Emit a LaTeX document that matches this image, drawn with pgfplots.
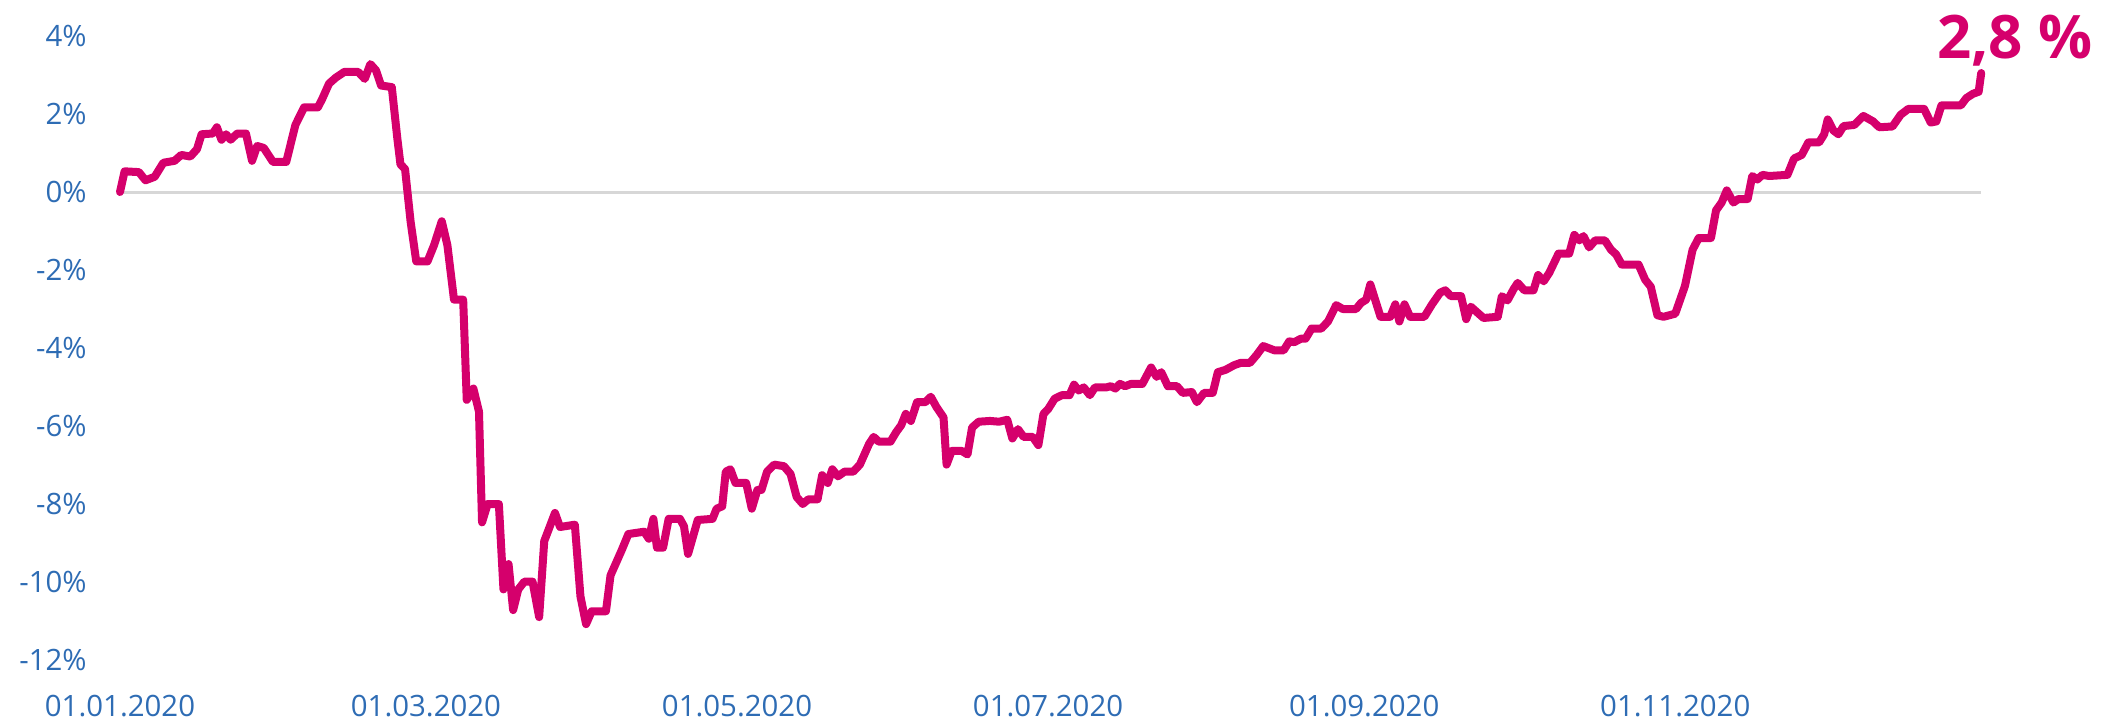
\documentclass[border=0pt]{standalone}
\usepackage{fontspec}
\setmainfont{Open Sans}
\usepackage{pgfplots}
\pgfplotsset{compat=1.18}
\definecolor{linepink}{RGB}{213,0,108}
\definecolor{tickblue}{RGB}{46,108,180}
\definecolor{zerogray}{RGB}{215,215,215}
\begin{document}
\begin{tikzpicture}
\begin{axis}[
  at={(0,0)}, anchor=south west,
  scale only axis,
  width=930.6pt, height=312pt,
  xmin=0, xmax=365, ymin=-12, ymax=4,
  axis line style={draw=none},
  tick style={draw=none},
  clip=false,
  xtick={0,60,121,182,244,305},
  xticklabels={01.01.2020,01.03.2020,01.05.2020,01.07.2020,01.09.2020,01.11.2020},
  ytick={-12,-10,-8,-6,-4,-2,0,2,4},
  yticklabels={-12\%,-10\%,-8\%,-6\%,-4\%,-2\%,0\%,2\%,4\%},
  major tick length=0pt,
  tick label style={font=\fontsize{14.7}{17}\selectfont, text=tickblue, inner sep=0pt},
  xticklabel style={anchor=center, yshift=-22.9pt},
  yticklabel style={anchor=east, xshift=-16.5pt},
]
\addplot[zerogray, line width=1.5pt, forget plot] coordinates {(0,0) (365,0)};
\addplot[linepink, line width=4pt, line join=round, line cap=round, mark=none] coordinates {
(0,0) (0.9,0.53) (3.7,0.51) (5,0.3) (6.8,0.39) (8.5,0.75) (10.7,0.8) (12,0.95) (13.8,0.91)
(15.1,1.1) (16,1.48) (18.2,1.5) (19,1.66) (19.9,1.34) (20.8,1.48) (21.7,1.34) (23,1.5) (24.7,1.5)
(25.9,0.8) (26.9,1.18) (28.2,1.13) (30,0.77) (32.6,0.77) (34.4,1.72) (36.1,2.17) (38.8,2.17)
(39.6,2.37) (41,2.78) (42.3,2.93) (44,3.08) (46.7,3.08) (48,2.9) (49.1,3.28) (50.2,3.12)
(51.2,2.73) (53.3,2.69) (54.4,1.36) (55,0.71) (55.9,0.59) (57,-0.77) (58.1,-1.78) (60.3,-1.78)
(61.6,-1.36) (63.1,-0.75) (64.2,-1.36) (65.5,-2.76) (67.3,-2.76) (68,-5.33) (69.3,-5.04)
(70.4,-5.63) (71,-8.47) (72.1,-8.0) (74.3,-8.0) (75.2,-10.19) (76.2,-9.54) (77.1,-10.72)
(78.1,-10.19) (79.3,-9.99) (80.9,-9.99) (82.2,-10.9) (83.2,-8.95) (85.3,-8.23) (86.3,-8.59)
(89.2,-8.53) (90.3,-10.37) (91.4,-11.08) (92.5,-10.75) (95.3,-10.75) (96.2,-9.83) (98.4,-9.18)
(99.7,-8.77) (102.8,-8.71) (103.7,-8.89) (104.6,-8.38) (105.3,-9.12) (106.5,-9.12) (107.6,-8.38)
(109.8,-8.38) (110.6,-8.57) (111.4,-9.28) (113.3,-8.41) (116.2,-8.38) (117,-8.12) (118.1,-8.06)
(118.8,-7.17) (119.7,-7.11) (120.7,-7.46) (122.8,-7.46) (123.9,-8.12) (125,-7.64) (125.8,-7.64)
(126.9,-7.17) (128.3,-6.99) (130.2,-7.03) (131.5,-7.23) (132.7,-7.82) (133.9,-8.0) (135,-7.88)
(136.8,-7.88) (137.7,-7.26) (138.8,-7.46) (139.7,-7.11) (140.8,-7.29) (142.1,-7.17) (143.8,-7.17)
(145.1,-6.99) (146.9,-6.46) (147.8,-6.28) (148.8,-6.4) (151.1,-6.4) (152.2,-6.16) (153.2,-5.98)
(154.1,-5.69) (155.1,-5.87) (156.3,-5.39) (157.9,-5.39) (159,-5.25) (160.1,-5.51) (161.5,-5.78)
(162.1,-6.99) (163.1,-6.64) (165.1,-6.64) (166.2,-6.73) (167.1,-6.04) (168.4,-5.89) (170.6,-5.87)
(172.4,-5.89) (174,-5.84) (175,-6.32) (176.1,-6.08) (177.2,-6.28) (179,-6.28) (180.1,-6.49)
(181.1,-5.69) (182,-5.57) (183.3,-5.3) (184.7,-5.21) (186.2,-5.21) (187.1,-4.94) (188,-5.09)
(189,-5.01) (190.2,-5.21) (191.2,-5.01) (193.4,-5.01) (194.3,-4.98) (195.2,-5.04) (196.1,-4.92)
(197.1,-4.98) (198.3,-4.92) (200.5,-4.92) (202.2,-4.5) (203.3,-4.74) (204.2,-4.62) (205.5,-4.98)
(207.3,-4.98) (208.4,-5.15) (210.2,-5.13) (211.2,-5.39) (212.6,-5.15) (214.3,-5.15) (215.3,-4.62)
(216.8,-4.56) (218.5,-4.44) (219.8,-4.38) (221.6,-4.38) (222.9,-4.18) (224.2,-3.95) (226.4,-4.06)
(228.2,-4.06) (229.3,-3.83) (230.3,-3.85) (231.6,-3.76) (232.5,-3.76) (233.7,-3.5) (235.6,-3.5)
(236.9,-3.32) (238.5,-2.9) (239.8,-3.0) (242.4,-3.0) (243.4,-2.84) (244.4,-2.76) (245.2,-2.37)
(247.2,-3.2) (249.1,-3.2) (250.1,-2.88) (250.9,-3.32) (251.9,-2.88) (253,-3.2) (255.8,-3.2)
(257.3,-2.88) (258.9,-2.58) (259.9,-2.52) (261,-2.67) (263,-2.67) (264,-3.26) (264.9,-2.94)
(266.1,-3.08) (267.4,-3.23) (270.2,-3.2) (271,-2.67) (272.1,-2.78) (273.3,-2.49) (274.1,-2.33)
(275.4,-2.52) (277.2,-2.52) (278.1,-2.13) (279.2,-2.29) (280.3,-2.07) (282.1,-1.58) (284.2,-1.58)
(285.2,-1.1) (286.2,-1.24) (287,-1.13) (288.1,-1.42) (289.3,-1.24) (291.2,-1.24) (292.4,-1.48)
(293.4,-1.6) (294.5,-1.86) (297.8,-1.86) (299.1,-2.25) (300.2,-2.43) (301.5,-3.16) (302.7,-3.2)
(305,-3.12) (306.9,-2.41) (308.4,-1.48) (309.6,-1.18) (312,-1.18) (313,-0.47) (314.1,-0.27)
(315.1,0.04) (316.4,-0.27) (317.4,-0.18) (319.2,-0.18) (320.1,0.41) (321.1,0.32) (322.1,0.44)
(323.4,0.41) (327,0.44) (328.3,0.86) (329.8,0.95) (331.1,1.27) (333.2,1.27) (334.2,1.48)
(334.9,1.86) (336,1.58) (337,1.48) (338,1.69) (340.1,1.72) (341.9,1.95) (343.8,1.81) (345,1.66)
(347.6,1.68) (349.2,1.98) (350.7,2.13) (353.8,2.13) (355.1,1.78) (356.2,1.81) (357.2,2.22)
(361,2.22) (362.1,2.41) (363.4,2.52) (364.5,2.57) (365,3.05)
};
\node[anchor=base west, inner sep=0pt, text=linepink, font=\bfseries\fontsize{30}{34}\selectfont]
  at (axis cs:356.3,3.43) {2,8 \%};
\end{axis}
\pgfresetboundingbox
\path[use as bounding box] (-60pt,-32.5pt) rectangle (1003pt,330pt);
\end{tikzpicture}
\end{document}
